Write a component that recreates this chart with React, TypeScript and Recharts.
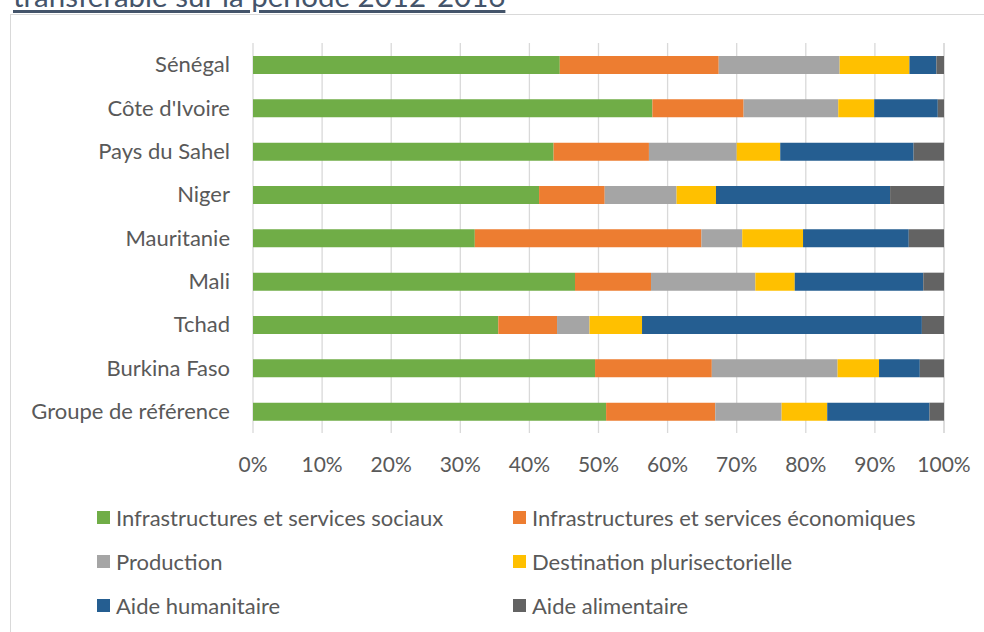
import React from "react";
import {
  BarChart,
  Bar,
  XAxis,
  YAxis,
  CartesianGrid,
} from "recharts";

const countries = [
  "Sénégal",
  "Côte d'Ivoire",
  "Pays du Sahel",
  "Niger",
  "Mauritanie",
  "Mali",
  "Tchad",
  "Burkina Faso",
  "Groupe de référence",
];

// shares in % per country, same order as countries
const sociaux = [44.4, 57.8, 43.5, 41.4, 32.1, 46.6, 35.5, 49.5, 51.1];
const economiques = [23.0, 13.2, 13.8, 9.5, 32.8, 11.0, 8.5, 16.9, 15.8];
const production = [17.5, 13.7, 12.7, 10.4, 5.9, 15.1, 4.7, 18.2, 9.6];
const pluri = [10.1, 5.2, 6.3, 5.7, 8.8, 5.7, 7.6, 6.0, 6.6];
const humanitaire = [3.9, 9.2, 19.3, 25.2, 15.3, 18.6, 40.5, 5.9, 14.8];
const alimentaire = [1.1, 0.9, 4.4, 7.8, 5.1, 3.0, 3.2, 3.5, 2.1];

const xTicks = [0, 10, 20, 30, 40, 50, 60, 70, 80, 90, 100];

const series = [
  { key: "sociaux", name: "Infrastructures et services sociaux", values: sociaux, color: "#70AD47" },
  { key: "economiques", name: "Infrastructures et services économiques", values: economiques, color: "#ED7D31" },
  { key: "production", name: "Production", values: production, color: "#A5A5A5" },
  { key: "pluri", name: "Destination plurisectorielle", values: pluri, color: "#FFC000" },
  { key: "humanitaire", name: "Aide humanitaire", values: humanitaire, color: "#255E91" },
  { key: "alimentaire", name: "Aide alimentaire", values: alimentaire, color: "#636363" },
];

const data = countries.map((name, i) => {
  const row: Record<string, string | number> = { name };
  series.forEach((s) => {
    row[s.key] = s.values[i];
  });
  return row;
});

const FONT = "Lato, 'Noto Sans', sans-serif";
const TEXT = "#595959";

const App: React.FC = () => {
  return (
    <div
      style={{
        position: "absolute",
        left: 0,
        top: 0,
        width: 984,
        height: 632,
        overflow: "hidden",
        background: "#fff",
        fontFamily: FONT,
      }}
    >
      {/* title, clipped by the top of the page as in the source */}
      <div
        style={{
          position: "absolute",
          left: 13,
          top: -19,
          fontSize: 29.5,
          lineHeight: "30px",
          color: "#44546A",
          whiteSpace: "nowrap",
          textDecoration: "underline",
          textDecorationThickness: "3px",
          textUnderlineOffset: "3px",
        }}
      >
        transférable sur la période 2012-2016
      </div>

      {/* chart frame */}
      <div
        style={{
          position: "absolute",
          left: 10,
          top: 14,
          width: 1100,
          height: 800,
          border: "1px solid #D9D9D9",
        }}
      />

      <div style={{ position: "absolute", left: 0, top: 0 }}>
        <BarChart
          width={984}
          height={632}
          data={data}
          layout="vertical"
          margin={{ top: 43, right: 40, bottom: 169, left: 0 }}
          barSize={18}
        >
          <CartesianGrid horizontal={false} stroke="#D9D9D9" strokeWidth={1.3} />
          <XAxis
            type="number"
            domain={[0, 100]}
            ticks={xTicks}
            tickFormatter={(v: number) => `${v}%`}
            axisLine={false}
            tickLine={false}
            tickSize={0}
            tickMargin={24}
            height={30}
            interval={0}
            tick={{ fill: TEXT, fontSize: 21, fontFamily: FONT }}
          />
          <YAxis
            type="category"
            dataKey="name"
            width={253}
            axisLine={false}
            tickLine={false}
            tickSize={0}
            tickMargin={23}
            interval={0}
            tick={{ fill: TEXT, fontSize: 22, fontFamily: FONT }}
          />
          {series.map((s) => (
            <Bar
              key={s.key}
              dataKey={s.key}
              name={s.name}
              stackId="a"
              fill={s.color}
              isAnimationActive={false}
            />
          ))}
        </BarChart>
      </div>

      {/* legend */}
      <div
        style={{
          position: "absolute",
          left: 97,
          top: 495,
          display: "grid",
          gridTemplateColumns: "416px 416px",
          rowGap: 0,
        }}
      >
        {series.map((s) => (
          <div
            key={s.key}
            style={{
              display: "flex",
              alignItems: "center",
              height: 44,
              fontSize: 22,
              color: TEXT,
              whiteSpace: "nowrap",
            }}
          >
            <span
              style={{
                display: "inline-block",
                width: 13,
                height: 13,
                background: s.color,
                marginRight: 6,
              }}
            />
            {s.name}
          </div>
        ))}
      </div>
    </div>
  );
};

export default App;
